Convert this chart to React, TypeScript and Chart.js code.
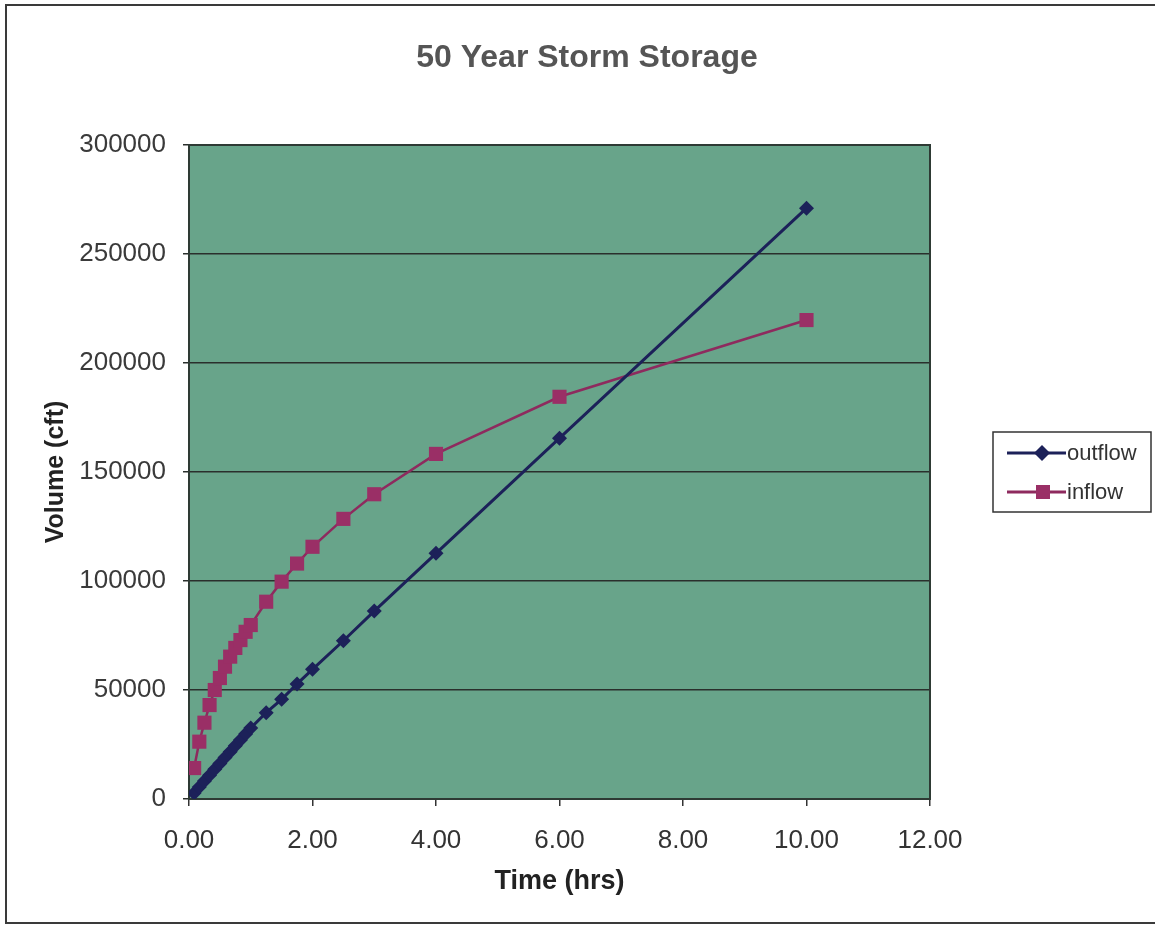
import React, { useEffect, useRef } from 'react';
import { Chart, registerables } from 'chart.js';

Chart.register(...registerables);

// ---- data ----
const timeHrs = [0.083, 0.167, 0.25, 0.333, 0.417, 0.5, 0.583, 0.667, 0.75, 0.833, 0.917, 1.0, 1.25, 1.5, 1.75, 2.0, 2.5, 3.0, 4.0, 6.0, 10.0];
const outflow = [2700, 5500, 8200, 10900, 13600, 16300, 19000, 21700, 24400, 27100, 29800, 32600, 39600, 45700, 52800, 59500, 72600, 86200, 112700, 165500, 271000];
const inflow = [14200, 26300, 35000, 43100, 50000, 55500, 60700, 65300, 69300, 72900, 76700, 79800, 90500, 99700, 108000, 115700, 128500, 139800, 158300, 184500, 219700];
const seriesNames = ['outflow', 'inflow'];
const chartTitle = '50 Year Storm Storage';
const xTitle = 'Time (hrs)';
const yTitle = 'Volume (cft)';
const xMin = 0, xMax = 12, xStep = 2;
const yMin = 0, yMax = 300000, yStep = 50000;

const FONT = '"Liberation Sans", Arial, Helvetica, sans-serif';
const PLOT_BG = 'rgb(104,164,138)';
const OUT_COLOR = '#1c2159';
const IN_COLOR = '#8e2a5e';
const IN_MARKER = '#9a2f66';

const decorations = {
  id: 'decorations',
  beforeDraw(chart: any) {
    const { ctx, chartArea: a } = chart;
    ctx.save();
    ctx.fillStyle = '#ffffff';
    ctx.fillRect(0, 0, chart.width, chart.height);
    ctx.fillStyle = PLOT_BG;
    ctx.fillRect(a.left, a.top, a.right - a.left, a.bottom - a.top);
    // outer frame
    ctx.strokeStyle = '#3a3a3a';
    ctx.lineWidth = 2;
    ctx.strokeRect(6, 5, chart.width + 10, chart.height - 8);
    ctx.restore();
  },
  beforeDatasetsDraw(chart: any) {
    const { ctx, chartArea: a } = chart;
    ctx.save();
    ctx.strokeStyle = '#2e3a34';
    ctx.lineWidth = 2;
    ctx.strokeRect(a.left, a.top, a.right - a.left, a.bottom - a.top);
    ctx.restore();
  },
  afterDraw(chart: any) {
    const { ctx } = chart;
    ctx.save();
    // title
    ctx.fillStyle = '#555555';
    ctx.font = `bold 32px ${FONT}`;
    ctx.textAlign = 'center';
    ctx.textBaseline = 'middle';
    ctx.fillText(chartTitle, 587, 58);

    // legend
    const bx = 993, by = 432, bw = 158, bh = 80;
    ctx.fillStyle = '#ffffff';
    ctx.fillRect(bx, by, bw, bh);
    ctx.strokeStyle = '#333333';
    ctx.lineWidth = 1.5;
    ctx.strokeRect(bx, by, bw, bh);
    const rows = [
      { y: 453, color: OUT_COLOR, marker: OUT_COLOR, style: 'rectRot' },
      { y: 492, color: IN_COLOR, marker: IN_MARKER, style: 'rect' },
    ];
    rows.forEach((r, i) => {
      ctx.strokeStyle = r.color;
      ctx.lineWidth = 3;
      ctx.beginPath();
      ctx.moveTo(1007, r.y);
      ctx.lineTo(1066, r.y);
      ctx.stroke();
      ctx.fillStyle = r.marker;
      if (r.style === 'rectRot') {
        ctx.beginPath();
        ctx.moveTo(1042, r.y - 8);
        ctx.lineTo(1050, r.y);
        ctx.lineTo(1042, r.y + 8);
        ctx.lineTo(1034, r.y);
        ctx.closePath();
        ctx.fill();
      } else {
        ctx.fillRect(1036, r.y - 7, 14, 14);
      }
      ctx.fillStyle = '#333333';
      ctx.font = `22px ${FONT}`;
      ctx.textAlign = 'left';
      ctx.textBaseline = 'middle';
      ctx.fillText(seriesNames[i], 1067, r.y + 1);
    });
    ctx.restore();
  },
};

export default function App() {
  const ref = useRef<HTMLCanvasElement | null>(null);

  useEffect(() => {
    document.body.style.margin = '0';
    const canvas = ref.current;
    if (!canvas) return;
    const chart = new Chart(canvas, {
      type: 'scatter',
      data: {
        datasets: [
          {
            label: seriesNames[0],
            data: timeHrs.map((t, i) => ({ x: t, y: outflow[i] })),
            showLine: true,
            borderColor: OUT_COLOR,
            borderWidth: 3,
            backgroundColor: OUT_COLOR,
            pointStyle: 'rectRot',
            pointRadius: 7.5,
            pointBorderWidth: 0,
            pointBackgroundColor: OUT_COLOR,
            tension: 0,
          },
          {
            label: seriesNames[1],
            data: timeHrs.map((t, i) => ({ x: t, y: inflow[i] })),
            showLine: true,
            borderColor: IN_COLOR,
            borderWidth: 2.5,
            backgroundColor: IN_MARKER,
            pointStyle: 'rect',
            pointRadius: 10,
            pointBorderWidth: 0,
            pointBackgroundColor: IN_MARKER,
            tension: 0,
          },
        ],
      },
      plugins: [decorations],
      options: {
        responsive: false,
        animation: false,
        devicePixelRatio: 1,
        layout: { padding: { left: 0, right: 225, top: 145, bottom: 0 } },
        plugins: {
          legend: { display: false },
          title: { display: false },
          tooltip: { enabled: false },
        },
        scales: {
          x: {
            type: 'linear',
            min: xMin,
            max: xMax,
            afterFit: (s: any) => { s.height = 127; },
            ticks: {
              stepSize: xStep,
              color: '#333333',
              font: { family: FONT, size: 26 },
              padding: 19,
              callback: (v: any) => Number(v).toFixed(2),
            },
            grid: { display: true, drawOnChartArea: false, drawTicks: true, tickLength: 7, color: '#333333', lineWidth: 1.5 },
            border: { display: true, color: '#2e3a34', width: 2 },
            title: {
              display: true,
              text: xTitle,
              color: '#222222',
              font: { family: FONT, size: 27, weight: 'bold' },
              padding: { top: 0, bottom: 28 },
            },
          },
          y: {
            type: 'linear',
            min: yMin,
            max: yMax,
            afterFit: (s: any) => { s.width = 189; },
            ticks: {
              stepSize: yStep,
              color: '#3a3a3a',
              font: { family: FONT, size: 26 },
              padding: 17,
              callback: (v: any) => String(v),
            },
            grid: { display: true, drawTicks: true, tickLength: 6, color: '#2a2f2c', lineWidth: 1.5 },
            border: { display: true, color: '#2e3a34', width: 2 },
            title: {
              display: true,
              text: yTitle,
              color: '#222222',
              font: { family: FONT, size: 25, weight: 'bold' },
              padding: { top: 41, bottom: 0 },
            },
          },
        },
      },
    });
    return () => chart.destroy();
  }, []);

  return <canvas ref={ref} width={1155} height={926} style={{ display: 'block', width: 1155, height: 926 }} />;
}
